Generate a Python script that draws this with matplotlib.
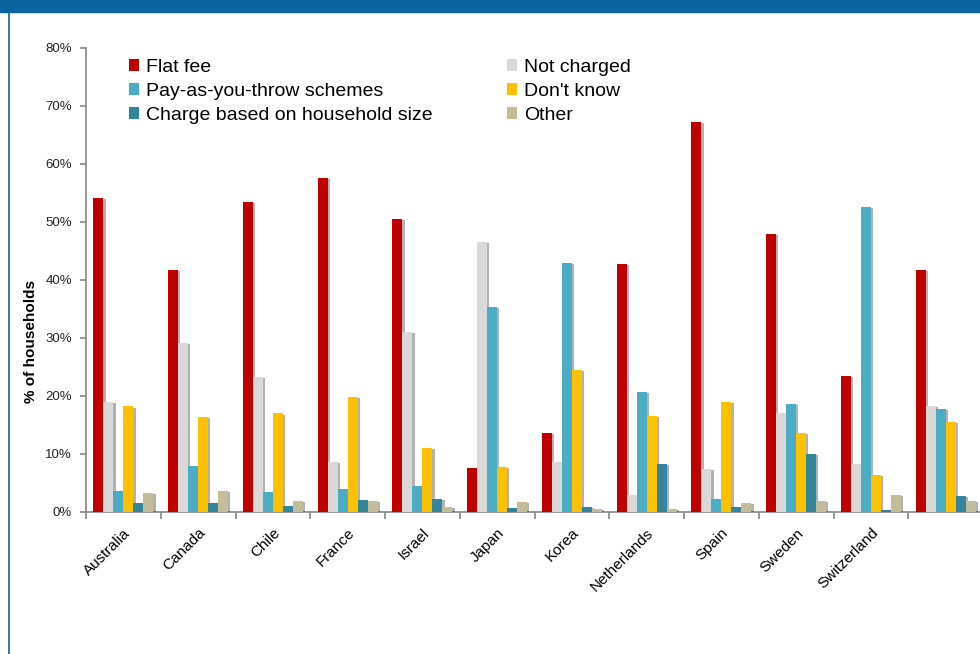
import numpy as np
import matplotlib
matplotlib.use("Agg")
import matplotlib.pyplot as plt
import matplotlib.patheffects as pe
from matplotlib.patches import Rectangle, Patch
from matplotlib.lines import Line2D
from matplotlib.ticker import PercentFormatter, FixedLocator

plt.rcParams['font.family'] = ['Liberation Sans', 'DejaVu Sans']

countries = ["Australia", "Canada", "Chile", "France", "Israel", "Japan", "Korea",
             "Netherlands", "Spain", "Sweden", "Switzerland", ""]

series = ["Flat fee", "Not charged", "Pay-as-you-throw schemes", "Don't know",
          "Charge based on household size", "Other"]
colors = ["#C00000", "#D9D9D9", "#4BACC6", "#FFC000", "#31859C", "#C4BD97"]

# % of households per country
flat_fee     = [54.1, 41.7, 53.4, 57.6, 50.5, 7.6, 13.6, 42.8, 67.2, 48.0, 23.5, 41.8]
not_charged  = [18.9, 29.1, 23.3, 8.6, 31.0, 46.6, 8.6, 3.0, 7.4, 17.1, 8.3, 18.3]
payt         = [3.7, 7.9, 3.4, 4.0, 4.4, 35.3, 42.9, 20.7, 2.2, 18.6, 52.6, 17.8]
dont_know    = [18.2, 16.4, 17.0, 19.8, 11.0, 7.7, 24.5, 16.6, 18.9, 13.6, 6.4, 15.5]
household    = [1.6, 1.5, 1.0, 2.1, 2.3, 0.7, 0.9, 8.3, 0.9, 10.0, 0.3, 2.8]
other        = [3.3, 3.6, 1.9, 1.9, 0.9, 1.7, 0.6, 0.6, 1.6, 1.9, 3.0, 1.9]

values = [flat_fee, not_charged, payt, dont_know, household, other]

fig = plt.figure(figsize=(9.8, 6.54), dpi=100)
ax = fig.add_axes([86 / 980, 142 / 654, 897 / 980, 464 / 654])

x = np.arange(len(countries))
w = 0.134
shadow = [pe.SimplePatchShadow(offset=(1.6, -0.8), shadow_rgbFace="black", alpha=0.3), pe.Normal()]
for i, (name, vals, c) in enumerate(zip(series, values, colors)):
    bars = ax.bar(x + (i - 2.5) * w, np.array(vals) / 100, width=w, color=c, zorder=3)
    for b in bars:
        b.set_path_effects(shadow)

ax.set_xlim(-0.5, len(countries) - 0.5)
ax.set_ylim(0, 0.8)
ax.yaxis.set_major_locator(FixedLocator(np.arange(0, 0.81, 0.1)))
ax.yaxis.set_major_formatter(PercentFormatter(1.0, decimals=0))

# group separators as major ticks, country names on minor ticks
ax.xaxis.set_major_locator(FixedLocator(np.arange(-0.5, len(countries), 1.0)))
ax.xaxis.set_major_formatter(plt.NullFormatter())
ax.set_xticks(x, minor=True)
ax.set_xticklabels(countries, minor=True, rotation=45, ha="right", va="top",
                   rotation_mode="anchor", fontsize=11)
ax.tick_params(axis="x", which="minor", length=0, pad=10)
ax.tick_params(axis="x", which="major", length=5, color="#888888", width=1.2)
ax.tick_params(axis="y", length=4, color="#888888", width=1.2, labelsize=9.5,
               labelcolor="#222222", pad=6)

for s in ["top", "right"]:
    ax.spines[s].set_visible(False)
for s in ["left", "bottom"]:
    ax.spines[s].set_color("#888888")
    ax.spines[s].set_linewidth(1.2)

ax.set_ylabel("% of households", fontsize=11, fontweight="bold", labelpad=5, y=0.367)

# legend: left column the charging schemes, right column the rest
order = [0, 2, 4, 1, 3, 5]
proxies = [Patch(facecolor=colors[k], edgecolor="none") for k in order]
ax.legend(proxies, [series[k] for k in order],
          loc="upper left", bbox_to_anchor=(119 / 980, 1 - 49 / 654),
          bbox_transform=fig.transFigure, ncol=2, frameon=False, fontsize=14,
          handlelength=0.55, handleheight=0.55, handletextpad=0.35,
          labelspacing=0.36, columnspacing=3.8, borderpad=0)

# header band and left rule
fig.patches.append(Rectangle((0, 1 - 12 / 654), 1, 12 / 654, transform=fig.transFigure,
                             color="#0A64A0", zorder=10))
fig.lines.append(Line2D([8.5 / 980, 8.5 / 980], [0, 1 - 12 / 654], transform=fig.transFigure,
                        color="#0A64A0", lw=1.2))

fig.savefig("out.png", dpi=100)
